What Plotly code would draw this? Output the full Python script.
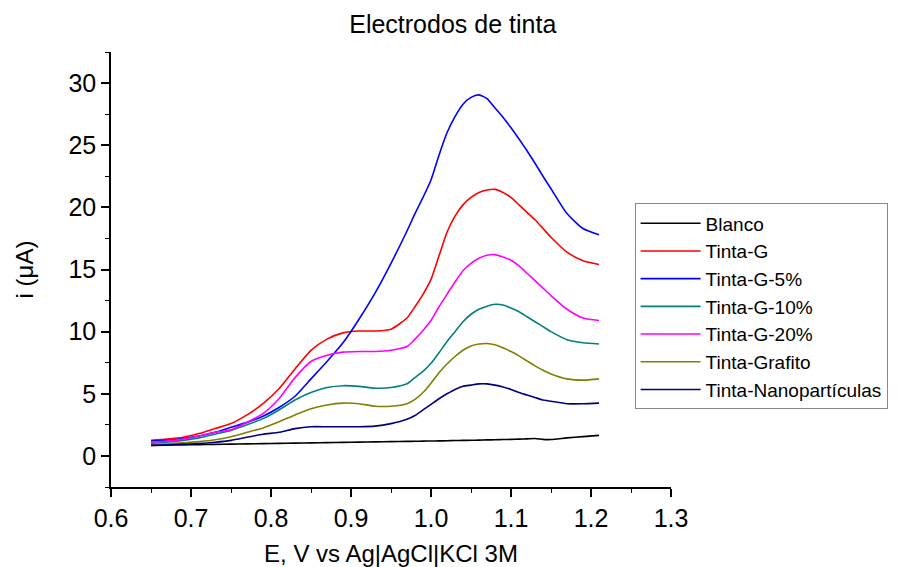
import plotly.graph_objects as go

E = [0.65, 0.67, 0.69, 0.71, 0.73, 0.75, 0.77, 0.79, 0.81, 0.83, 0.85, 0.87, 0.89, 0.91, 0.93, 0.95,
     0.97, 0.98, 0.99, 1.00, 1.01, 1.02, 1.03, 1.04, 1.05, 1.06, 1.07, 1.08, 1.09, 1.10, 1.11, 1.12,
     1.13, 1.14, 1.15, 1.17, 1.19, 1.21]

blanco = [0.85, 0.87, 0.89, 0.91, 0.93, 0.95, 0.97, 0.99, 1.01, 1.03, 1.05, 1.07, 1.09, 1.11, 1.13, 1.15,
          1.17, 1.18, 1.19, 1.20, 1.21, 1.22, 1.24, 1.25, 1.26, 1.27, 1.29, 1.30, 1.32, 1.33, 1.35, 1.37,
          1.40, 1.33, 1.32, 1.45, 1.55, 1.65]
tinta_g = [1.25, 1.35, 1.5, 1.8, 2.2, 2.6, 3.3, 4.2, 5.4, 7.0, 8.5, 9.4, 9.9, 10.05, 10.05, 10.2,
           11.1, 12.0, 13.0, 14.2, 16.1, 18.0, 19.3, 20.2, 20.8, 21.2, 21.4, 21.45, 21.2, 20.8, 20.2, 19.6,
           19.0, 18.3, 17.6, 16.4, 15.7, 15.4]
tinta_g5 = [1.2, 1.25, 1.4, 1.6, 1.9, 2.3, 2.7, 3.2, 3.9, 4.8, 6.2, 7.6, 9.1, 11.0, 13.1, 15.5,
            18.1, 19.5, 20.8, 22.2, 24.2, 26.0, 27.3, 28.3, 28.85, 29.05, 28.75, 28.0, 27.25, 26.4, 25.5, 24.55,
            23.55, 22.5, 21.5, 19.5, 18.3, 17.8]
tinta_g10 = [1.0, 1.1, 1.25, 1.45, 1.75, 2.05, 2.5, 3.0, 3.7, 4.5, 5.1, 5.5, 5.65, 5.6, 5.45, 5.5,
             5.8, 6.3, 6.8, 7.45, 8.3, 9.2, 10.0, 10.8, 11.4, 11.8, 12.05, 12.2, 12.15, 11.9, 11.6, 11.2,
             10.8, 10.4, 10.0, 9.35, 9.1, 9.0]
tinta_g20 = [1.1, 1.2, 1.35, 1.6, 1.9, 2.1, 2.7, 3.4, 4.6, 6.3, 7.6, 8.1, 8.35, 8.4, 8.4, 8.5,
             8.8, 9.4, 10.1, 10.9, 12.0, 13.0, 14.0, 14.9, 15.5, 15.9, 16.15, 16.2, 16.0, 15.75, 15.3, 14.7,
             14.1, 13.5, 12.9, 11.8, 11.1, 10.9]
tinta_grafito = [0.9, 0.95, 1.05, 1.15, 1.3, 1.55, 1.9, 2.25, 2.75, 3.3, 3.8, 4.1, 4.25, 4.2, 4.0, 4.0,
                 4.2, 4.55, 5.1, 5.85, 6.7, 7.4, 8.0, 8.5, 8.85, 9.0, 9.05, 8.95, 8.7, 8.4, 8.05, 7.65,
                 7.25, 6.9, 6.6, 6.2, 6.1, 6.2]
tinta_nano = [0.85, 0.9, 0.95, 1.0, 1.1, 1.25, 1.5, 1.75, 1.9, 2.2, 2.35, 2.35, 2.35, 2.35, 2.4, 2.6,
              2.95, 3.25, 3.7, 4.15, 4.6, 5.0, 5.35, 5.6, 5.7, 5.8, 5.8, 5.7, 5.55, 5.35, 5.1, 4.9,
              4.7, 4.5, 4.4, 4.2, 4.2, 4.25]

names = ["Blanco", "Tinta-G", "Tinta-G-5%", "Tinta-G-10%", "Tinta-G-20%",
         "Tinta-Grafito", "Tinta-Nanopartículas"]
series = [blanco, tinta_g, tinta_g5, tinta_g10, tinta_g20, tinta_grafito, tinta_nano]
colors = ["#000000", "#FF0000", "#0000FF", "#008080", "#FF00FF", "#808000", "#000080"]

x_ticks = [0.6, 0.7, 0.8, 0.9, 1.0, 1.1, 1.2, 1.3]
x_tick_labels = ["0.6", "0.7", "0.8", "0.9", "1.0", "1.1", "1.2", "1.3"]
y_ticks = [0, 5, 10, 15, 20, 25, 30]

fig = go.Figure()
for n, s, c in zip(names, series, colors):
    fig.add_trace(go.Scatter(x=E, y=s, mode="lines", name=n,
                             line=dict(color=c, width=1.6, shape="spline", smoothing=0.6)))

font_family = "Liberation Sans, Arial, sans-serif"
fig.update_layout(
    width=911, height=567,
    margin=dict(l=111, r=240, t=52, b=80, autoexpand=False),
    paper_bgcolor="white", plot_bgcolor="white",
    font=dict(family=font_family, color="#000000"),
    title=dict(text="Electrodos de tinta", x=0.497, xref="container", xanchor="center",
               y=0.958, yref="container", yanchor="middle", font=dict(size=25)),
    showlegend=True,
    legend=dict(x=0.935, y=0.652, xanchor="left", yanchor="top",
                bordercolor="#888888", borderwidth=1, bgcolor="white",
                font=dict(size=19), itemwidth=60),
)
fig.update_xaxes(range=[0.6, 1.3], tickvals=x_ticks, ticktext=x_tick_labels, automargin=False,
                 showgrid=False, zeroline=False, showline=True, linecolor="black", linewidth=1.5,
                 ticks="outside", ticklen=8, tickwidth=1.5, tickcolor="black",
                 tickfont=dict(size=25),
                 minor=dict(ticks="outside", ticklen=4, tickwidth=1.2, tickcolor="black", dtick=0.05),
                 title=dict(text="E, V vs Ag|AgCl|KCl 3M", font=dict(size=24), standoff=14))
fig.update_yaxes(range=[-2.5, 32.5], tickvals=y_ticks, automargin=False,
                 showgrid=False, zeroline=False, showline=True, linecolor="black", linewidth=1.5,
                 ticks="outside", ticklen=8, tickwidth=1.5, tickcolor="black",
                 tickfont=dict(size=25),
                 minor=dict(ticks="outside", ticklen=4, tickwidth=1.2, tickcolor="black", dtick=2.5),
                 title=dict(text="i (μA)", font=dict(size=24), standoff=28))

fig.write_html("out.html")
